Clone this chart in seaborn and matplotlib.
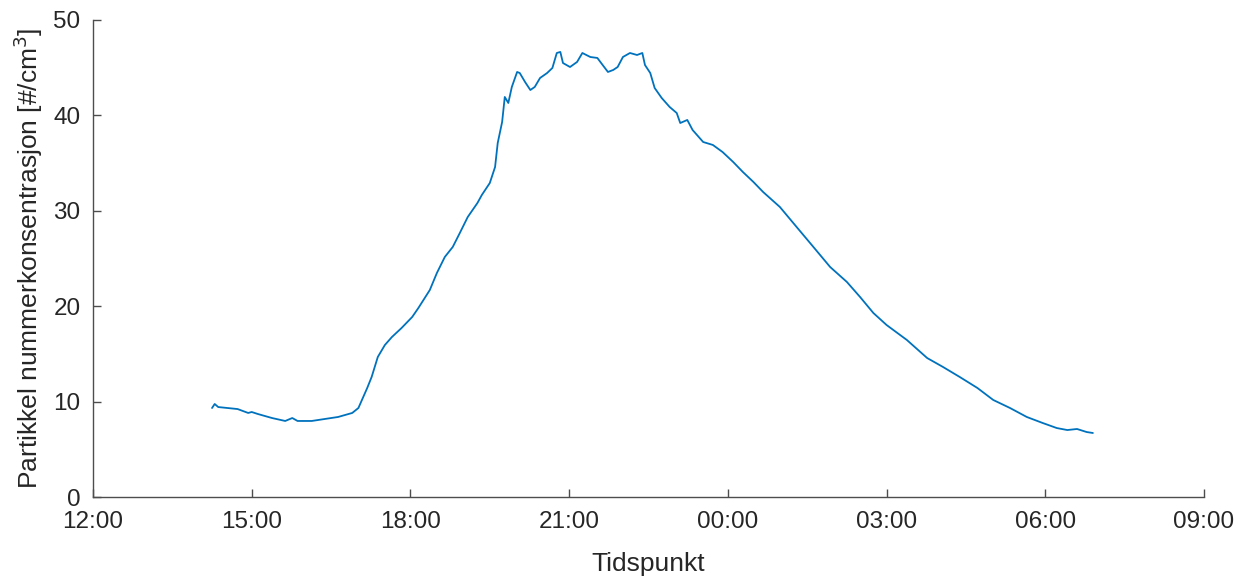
import matplotlib
matplotlib.use("Agg")
import matplotlib.pyplot as plt
import pandas as pd
import seaborn as sns

# Particle number concentration measurement, afternoon to next morning
times = [
    "14:15", "14:18", "14:22", "14:44", "14:56", "15:00", "15:07", "15:23",
    "15:38", "15:46", "15:52", "16:08", "16:23", "16:38", "16:54", "17:01",
    "17:05", "17:11", "17:16", "17:23", "17:31", "17:39", "17:50", "18:02",
    "18:09", "18:22", "18:30", "18:39", "18:48", "18:56", "19:05", "19:16",
    "19:21", "19:30", "19:36", "19:39", "19:44", "19:47", "19:51", "19:55",
    "20:01", "20:04", "20:10", "20:16", "20:21", "20:27", "20:35", "20:41",
    "20:46", "20:50", "20:53", "21:01", "21:09", "21:15", "21:24", "21:32",
    "21:38", "21:44", "21:50", "21:55", "22:01", "22:09", "22:17", "22:23",
    "22:26", "22:32", "22:37", "22:45", "22:54", "23:02", "23:06", "23:14",
    "23:20", "23:32", "23:43", "23:54", "00:06", "00:17", "00:29", "00:40",
    "00:59", "01:18", "01:37", "01:56", "02:15", "02:30", "02:45", "03:00",
    "03:23", "03:46", "04:04", "04:23", "04:43", "05:01", "05:20", "05:39",
    "05:57", "06:13", "06:25", "06:36", "06:47", "06:54",
]
concentration = [
    9.33, 9.75, 9.43, 9.22, 8.81, 8.91, 8.70, 8.28,
    7.97, 8.28, 7.97, 7.97, 8.18, 8.39, 8.81, 9.33,
    10.17, 11.43, 12.58, 14.68, 15.93, 16.77, 17.72, 18.87,
    19.81, 21.70, 23.48, 25.16, 26.21, 27.67, 29.35, 30.82,
    31.66, 32.91, 34.59, 37.11, 39.31, 41.93, 41.30, 42.98,
    44.55, 44.44, 43.50, 42.66, 42.98, 43.92, 44.44, 44.97,
    46.54, 46.65, 45.49, 45.07, 45.60, 46.54, 46.12, 46.02,
    45.28, 44.55, 44.76, 45.07, 46.12, 46.54, 46.33, 46.54,
    45.28, 44.44, 42.87, 41.82, 40.88, 40.25, 39.20, 39.52,
    38.47, 37.21, 36.90, 36.16, 35.12, 34.07, 33.02, 31.97,
    30.40, 28.30, 26.21, 24.11, 22.54, 20.96, 19.29, 18.03,
    16.46, 14.57, 13.63, 12.58, 11.43, 10.17, 9.33, 8.39,
    7.76, 7.23, 7.02, 7.13, 6.81, 6.71,
]
x_ticks = ["12:00", "15:00", "18:00", "21:00", "00:00", "03:00", "06:00", "09:00"]
y_ticks = [0, 10, 20, 30, 40, 50]


def to_stamp(hhmm, first_day_from=12):
    """Clock times before noon belong to the following day."""
    t = pd.Timestamp(f"2000-01-01 {hhmm}")
    if t.hour < first_day_from:
        t += pd.Timedelta(days=1)
    return t


df = pd.DataFrame({
    "Tidspunkt": [to_stamp(t) for t in times],
    "Konsentrasjon": concentration,
})
tick_stamps = [to_stamp(t) for t in x_ticks]

sns.set_style("white")
plt.rcParams["font.family"] = ["Liberation Sans", "DejaVu Sans"]
plt.rcParams.update({
    "xtick.direction": "in", "ytick.direction": "in",
    "xtick.bottom": True, "ytick.left": True,
    "xtick.major.size": 6, "ytick.major.size": 6,
    "xtick.major.width": 1.0, "ytick.major.width": 1.0,
})

ink = "#262626"
axis_grey = "#4d4d4d"
fig = plt.figure(figsize=(12.5, 5.79), dpi=100)
ax = fig.add_axes([0.0744, 0.1416, 0.8888, 0.8239])

sns.lineplot(data=df, x="Tidspunkt", y="Konsentrasjon", ax=ax,
             color="#0072BD", linewidth=1.3)

ax.set_xlim(tick_stamps[0], tick_stamps[-1])
ax.set_xticks(tick_stamps)
ax.set_xticklabels(x_ticks)
ax.set_ylim(y_ticks[0], y_ticks[-1])
ax.set_yticks(y_ticks)

for side in ("top", "right"):
    ax.spines[side].set_visible(False)
for side in ("left", "bottom"):
    ax.spines[side].set_color(axis_grey)
    ax.spines[side].set_linewidth(1.0)

ax.tick_params(axis="both", which="major", direction="in", length=6,
               width=1.0, color=axis_grey, labelsize=17.5, labelcolor=ink,
               bottom=True, left=True, top=False, right=False)
ax.tick_params(axis="x", pad=10)
ax.tick_params(axis="y", pad=9)

ax.set_xlabel("Tidspunkt", fontsize=19, color=ink, labelpad=14)
ax.set_ylabel("Partikkel nummerkonsentrasjon [#/cm$^3$]", fontsize=19,
              color=ink, labelpad=6)

fig.savefig("out.png", dpi=100, facecolor="white")
